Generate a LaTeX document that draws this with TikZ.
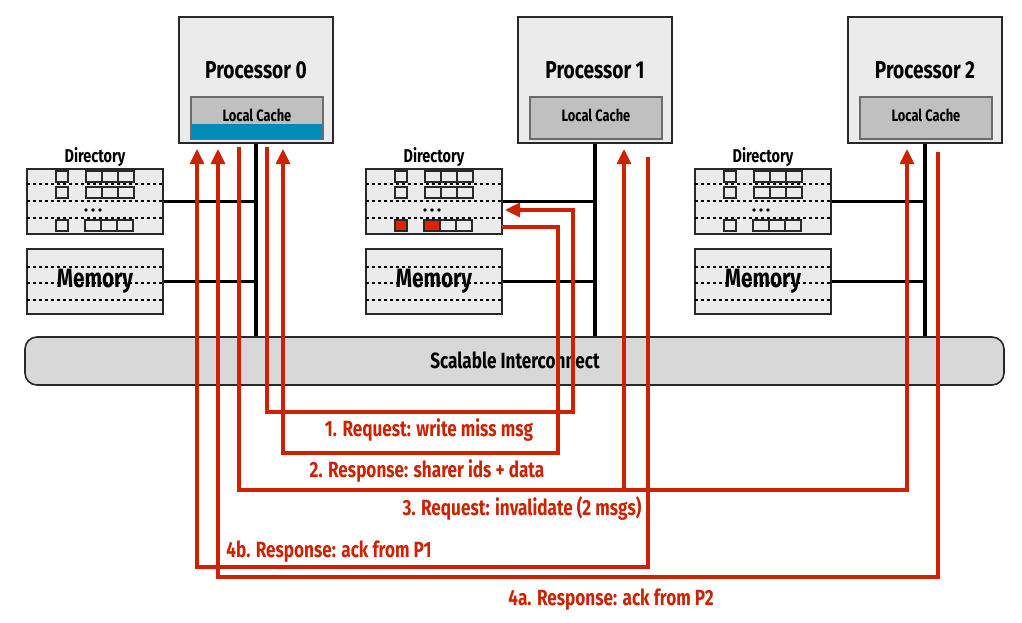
\documentclass[tikz,border=0pt]{standalone}
\usepackage{fontspec}
\setmainfont{Fira Sans}[FakeStretch=0.78]
\usetikzlibrary{arrows.meta}
\definecolor{msgred}{RGB}{204,34,0}
\definecolor{hotred}{RGB}{224,32,0}
\definecolor{boxgray}{RGB}{235,235,235}
\definecolor{cachegray}{RGB}{192,192,192}
\definecolor{icgray}{RGB}{216,216,216}
\definecolor{cacheblue}{RGB}{0,140,180}
\definecolor{edge}{RGB}{40,40,40}
\tikzset{
  procbox/.style={draw=edge,line width=1.6pt,fill=boxgray,minimum width=154pt,minimum height=126pt,inner sep=0pt},
  cachebox/.style={draw=gray!85!black,line width=1.2pt,fill=cachegray,minimum width=132pt,minimum height=42pt,inner sep=0pt},
  storebox/.style={draw=edge,line width=1.6pt,fill=boxgray,minimum width=136pt,minimum height=65pt,inner sep=0pt},
  cell/.style={draw=edge,line width=1.3pt,fill=boxgray},
  dashrule/.style={line width=1.1pt,dash pattern=on 3pt off 3pt},
  bus/.style={line width=3.2pt,black},
  msg/.style={line width=3.2pt,msgred},
  tipped/.style={msg,-{Triangle[length=15pt,width=14pt]}},
  ptext/.style={font=\bfseries\fontsize{24.5}{24.5}\selectfont,inner sep=0pt},
  ctext/.style={font=\bfseries\fontsize{16.5}{16.5}\selectfont,inner sep=0pt},
  dtext/.style={font=\bfseries\fontsize{18.5}{18.5}\selectfont,inner sep=0pt},
  mtext/.style={font=\bfseries\fontsize{26.5}{26.5}\selectfont,inner sep=0pt},
  itext/.style={font=\bfseries\fontsize{22}{22}\selectfont,inner sep=0pt},
  msgtext/.style={font=\bfseries\fontsize{22}{22}\selectfont,text=msgred,inner sep=0pt},
}
\begin{document}
\begin{tikzpicture}[x=1pt,y=-1pt]
\useasboundingbox (0,0) rectangle (1022,622);

% processors with their local caches
\foreach \i/\cx in {0/256,1/595,2/925}{
  \node[procbox] (p\i) at (\cx,80) {};
  \node[ptext] (pt\i) at (\cx,70) {Processor \i};
  \node[cachebox] (c\i) at (\cx+1,118) {};
}
\fill[cacheblue] (192,124) rectangle (322,139);
\foreach \i in {0,1,2}{
  \node[ctext] (ct\i) at ([yshift=3pt]c\i.center) {Local Cache};
}

% interconnect
\node[draw=edge,line width=1.6pt,fill=icgray,rounded corners=12pt,
      minimum width=979pt,minimum height=48pt] (ic) at (514.5,361) {};
\node[itext] (it) at (515,360) {Scalable Interconnect};

% directories and memories
\foreach \i/\lx in {0/27,1/366,2/695}{
  \node[storebox] (d\i) at (\lx+68,201.5) {};
  \node[dtext] (dt\i) at (\lx+68,157) {Directory};
  \node[storebox] (m\i) at (\lx+68,281.5) {};
  \begin{scope}[shift={(\lx,169)}]
    \foreach \y in {15,32,49}{\draw[dashrule] (0,\y) -- (136,\y);}
    \foreach \y in {2,18}{
      \draw[cell] (29,\y) rectangle +(12,11);
      \draw[cell] (59,\y) rectangle +(16,11);
      \draw[cell] (75,\y) rectangle +(16,11);
      \draw[cell] (91,\y) rectangle +(16,11);
    }
    \draw[cell] (29,51) rectangle +(12,11);
    \draw[cell] (58,51) rectangle +(16,11);
    \draw[cell] (74,51) rectangle +(16,11);
    \draw[cell] (90,51) rectangle +(16,11);
    \foreach \dx in {-7,0,7}{\fill (66+\dx,41) circle (1.8pt);}
  \end{scope}
  \begin{scope}[shift={(\lx,249)}]
    \foreach \y in {18,34,51}{\draw[dashrule] (0,\y) -- (136,\y);}
  \end{scope}
  \node[mtext] (mt\i) at (\lx+68,281) {Memory};
}
% the written line sits in the home directory of node 1
\draw[cell,fill=hotred] (366+29,220) rectangle +(12,11);
\draw[cell,fill=hotred] (366+58,220) rectangle +(16,11);

% bus connections
\foreach \i in {0,1,2}{
  \draw[bus] (p\i.south) -- (p\i.south |- ic.north);
  \draw[bus] (d\i.east) -- (d\i.east -| p\i.south);
  \draw[bus] (m\i.east) -- (m\i.east -| p\i.south);
}

% message routes
\coordinate (a1) at (267,147);  \coordinate (b1) at (573,412);
\coordinate (e1) at (505,210);
\coordinate (a2) at (502,227);  \coordinate (b2) at (558,453);
\coordinate (e2) at (283,149);
\coordinate (a3) at (239,147);  \coordinate (b3) at (907,490);
\coordinate (e3a) at (624,149); \coordinate (e3b) at (907,149);
\coordinate (a4b) at (648,157); \coordinate (b4b) at (197,567);
\coordinate (e4b) at (197,149);
\coordinate (a4a) at (938,152); \coordinate (b4a) at (218,577);
\coordinate (e4a) at (218,149);

\draw[tipped] (a1) |- (b1) |- (e1);
\draw[tipped] (a2) -| (b2) -| (e2);
\draw[tipped] (a3) |- (b3) -- (e3b);
\draw[tipped] (e3a |- b3) -- (e3a);
\draw[tipped] (a4b) |- (b4b) -- (e4b);
\draw[tipped] (a4a) |- (b4a) -- (e4a);

\node[msgtext] (l1) at (429,430) {1. Request: write miss msg};
\node[msgtext] (l2) at (427,471) {2. Response: sharer ids + data};
\node[msgtext] (l3) at (522,508) {3. Request: invalidate (2 msgs)};
\node[msgtext] (l4b) at (329,552) {4b. Response: ack from P1};
\node[msgtext] (l4a) at (611,600) {4a. Response: ack from P2};
\end{tikzpicture}
\end{document}
